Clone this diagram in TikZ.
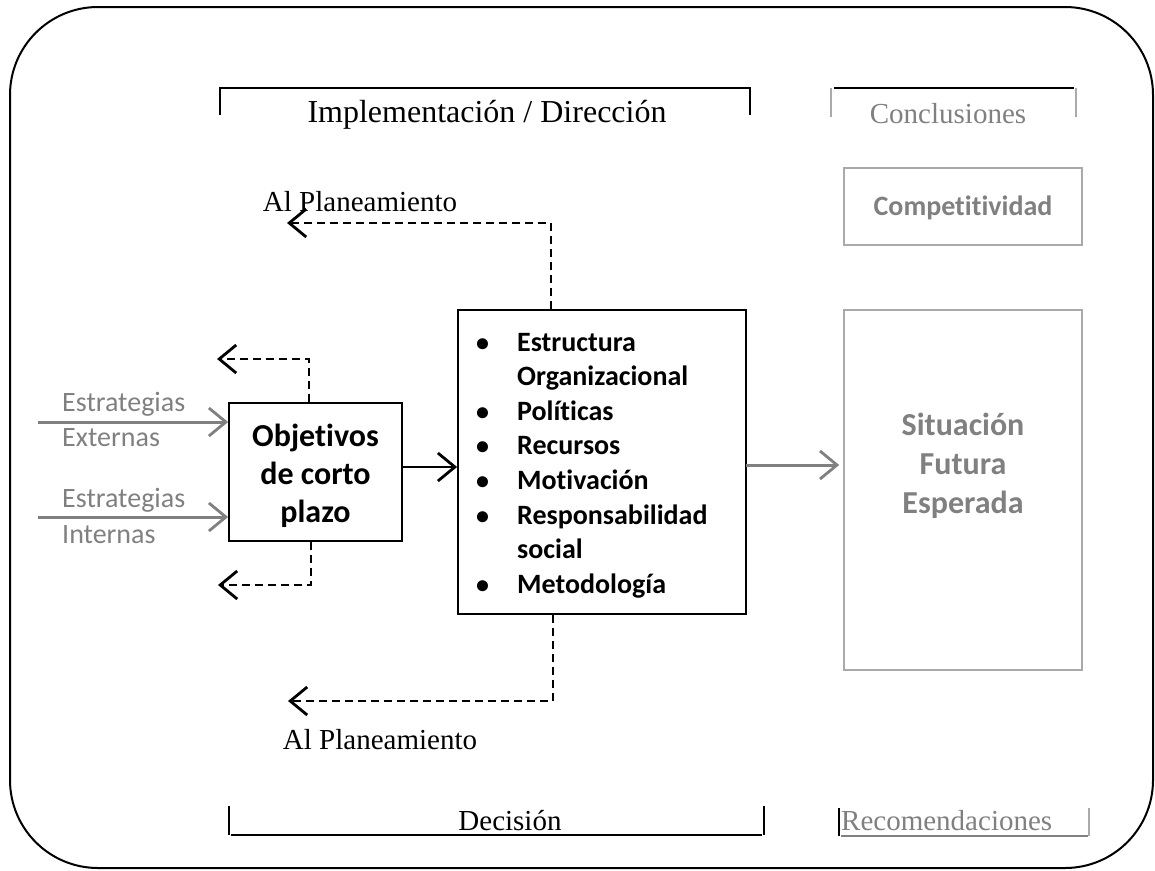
\documentclass[tikz,border=0pt]{standalone}
\usepackage{fontspec}
\setmainfont{Liberation Serif}
\newfontfamily\calfont[Ligatures=NoCommon]{Carlito}
\usetikzlibrary{arrows.meta}
\definecolor{txtgray}{RGB}{128,128,128}
\definecolor{boxgray}{RGB}{170,170,170}
\begin{document}
\begin{tikzpicture}[x=1pt,y=-1pt,
  tms/.style={font=\fontsize{29}{34}\selectfont, inner sep=0pt},
  calb/.style={font=\calfont\bfseries\fontsize{28}{34.6}\selectfont, inner sep=0pt},
  calr/.style={font=\calfont\fontsize{28}{34}\selectfont, inner sep=0pt, text=txtgray},
  blkbox/.style={draw=black, line width=1.8pt, inner sep=0pt},
  graybox/.style={draw=boxgray, line width=1.6pt, inner sep=0pt},
  tip/.style={-{Straight Barb[length=17pt,width=28pt,line width=2.8pt]}},
  dsh/.style={tip, line width=2.4pt, dash pattern=on 8pt off 5pt},
  blkarrow/.style={tip, line width=2.5pt},
  grayarrow/.style={tip, line width=3pt, draw=txtgray},
  bracket/.style={line width=2.2pt},
  bul/.style={calb, anchor=base west},
  dot/.style={font=\calfont\bfseries\fontsize{26}{34.6}\selectfont, inner sep=0pt, anchor=base west},
]
\useasboundingbox (0,0) rectangle (1155,870);
% outer frame
\draw[line width=2pt, rounded corners=88pt] (10,7) rectangle (1153,868);

% top brackets
\draw[bracket] (220,115) -- (220,88) -- (750,88) -- (750,115);
\node[tms, font=\fontsize{32}{36}\selectfont] (impl) at (487,115) {Implementación / Dirección};
\draw[bracket, draw=boxgray] (831,117) -- (831,88);
\draw[bracket, draw=boxgray] (1076,117) -- (1076,88);
\draw[bracket] (834,88) -- (1074,88);
\node[tms, text=txtgray] (concl) at (948,114) {Conclusiones};

% right boxes
\node[graybox, minimum width=238pt, minimum height=77pt] (comp) at (963,206.5) {};
\node[calb, text=txtgray] (comptxt) at (963,208) {Competitividad};
\node[graybox, minimum width=238pt, minimum height=360pt] (sit) at (963,490) {};
\node[calb, text=txtgray, align=center, font=\calfont\bfseries\fontsize{32}{39}\selectfont] (sittxt) at (963,466) {Situación\\Futura\\Esperada};

% objetivos box
\node[blkbox, minimum width=173pt, minimum height=138pt] (obj) at (315.5,472) {};
\node[align=center, inner sep=0pt,
      font=\calfont\bfseries\fontsize{32}{38}\selectfont] (objtxt) at (315.5,476) {Objetivos\\de corto\\plazo};

% list box
\node[blkbox, minimum width=288pt, minimum height=304pt] (list) at (602,462) {};
\node[dot] (b1) at (476,351) {•};
\node[bul] (l1) at (517,351) {Estructura};
\node[bul] (l2) at (517,385.6) {Organizacional};
\node[dot] (b3) at (476,420.2) {•};
\node[bul] (l3) at (517,420.2) {Políticas};
\node[dot] (b4) at (476,454.8) {•};
\node[bul] (l4) at (517,454.8) {Recursos};
\node[dot] (b5) at (476,489.4) {•};
\node[bul] (l5) at (517,489.4) {Motivación};
\node[dot] (b6) at (476,524) {•};
\node[bul] (l6) at (517,524) {Responsabilidad};
\node[bul] (l7) at (517,558.6) {social};
\node[dot] (b8) at (476,593.2) {•};
\node[bul] (l8) at (517,593.2) {Metodología};

% strategies
\coordinate (e1) at (38,422);
\coordinate (e2) at (38,517);
\draw[grayarrow] (e1) -- (e1 -| obj.west);
\draw[grayarrow] (e2) -- (e2 -| obj.west);
\node[calr, anchor=west] (est1) at (62,404) {Estrategias};
\node[calr, anchor=west] (ext) at (62,438) {Externas};
\node[calr, anchor=west] (est2) at (62,500) {Estrategias};
\node[calr, anchor=west] (int) at (62,535) {Internas};

% arrows between boxes
\coordinate (m1) at (402,467);
\draw[blkarrow] (m1) -- (m1 -| list.west);
\coordinate (m2) at (746,465);
\draw[grayarrow] (m2) -- ([xshift=-4pt]m2 -| sit.west);

% dashed feedback of objetivos
\coordinate (o1) at (309,359);
\coordinate (o1e) at (217,359);
\draw[dsh] (o1 |- obj.north) -- (o1) -- (o1e);
\coordinate (o2) at (311,585);
\coordinate (o2e) at (218,585);
\draw[dsh] (o2 |- obj.south) -- (o2) -- (o2e);

% dashed feedback of list
\coordinate (t1) at (551,223);
\coordinate (t1e) at (287,223);
\draw[dsh] (t1 |- list.north) -- (t1) -- (t1e);
\node[tms] (ap1) at (360,202) {Al Planeamiento};
\coordinate (t2) at (553,701);
\coordinate (t2e) at (288,701);
\draw[dsh] (t2 |- list.south) -- (t2) -- (t2e);
\node[tms] (ap2) at (380,740) {Al Planeamiento};

% bottom brackets
\draw[bracket] (229,806) -- (229,835);
\draw[bracket] (231,835) -- (762,835);
\draw[bracket] (764,806) -- (764,835);
\node[tms] (dec) at (510,821) {Decisión};
\draw[bracket] (839,808) -- (839,836);
\draw[bracket, draw=txtgray] (841,836) -- (1088,836);
\draw[bracket, draw=boxgray] (1089,808) -- (1089,836);
\node[tms, text=txtgray, anchor=west] (rec) at (841,821) {Recomendaciones};
\end{tikzpicture}
\end{document}
